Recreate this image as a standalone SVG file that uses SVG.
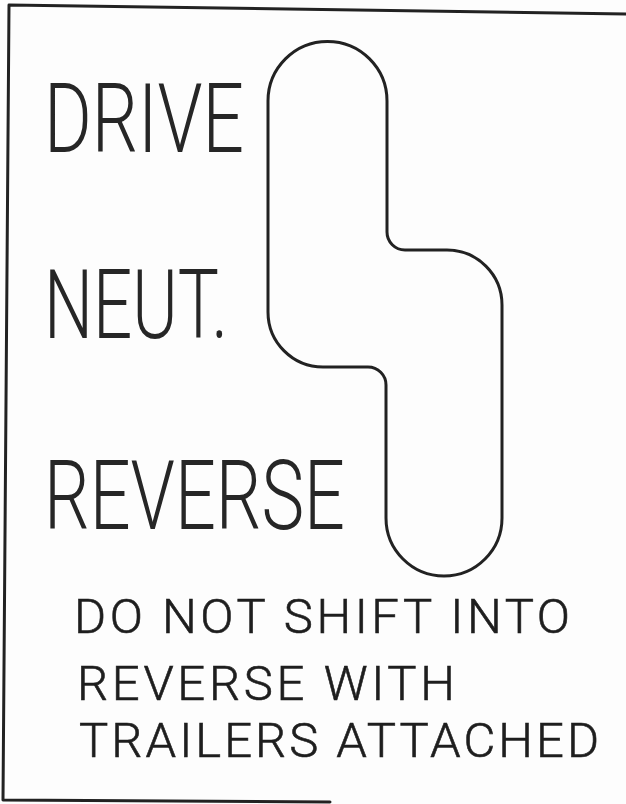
<svg xmlns="http://www.w3.org/2000/svg" width="626" height="804" viewBox="0 0 626 804">
<style>
.big{font-family:Roboto,"Liberation Sans Narrow","DejaVu Sans Condensed",sans-serif;font-weight:300;font-size:96px;fill:#262626}
.small{font-family:Roboto,"DejaVu Sans",sans-serif;font-weight:300;font-size:49px;fill:#1e1e1e;stroke:#1e1e1e;stroke-width:0.6}
.line{fill:none;stroke:#222;stroke-width:3;stroke-linejoin:round;stroke-linecap:round}
</style>
<rect width="626" height="804" fill="#fdfdfd"/>
<g id="border">
<polyline class="line" points="626,14 9,5 3,800 330,802" stroke-width="2.5" stroke="#333"/>
</g>
<g id="gate">
<path class="line" d="M268,101 A59.5,59.5 0 0 1 387,101 L387,232 A18,18 0 0 0 405,250 L447,250 A55,55 0 0 1 502,305 L502,518 A58,58 0 0 1 386,518 L386,385 A18,18 0 0 0 368,367 L323,367 A55,55 0 0 1 268,312 Z"/>
</g>
<g id="labels">
<text id="drive" class="big" x="44" y="152" textLength="200" lengthAdjust="spacingAndGlyphs">DRIVE</text>
<text id="neut" class="big" x="44" y="338" textLength="184" lengthAdjust="spacingAndGlyphs">NEUT.</text>
<text id="reverse" class="big" x="44" y="529" textLength="301" lengthAdjust="spacingAndGlyphs">REVERSE</text>
</g>
<g id="warning">
<text class="small" x="74" y="633" textLength="496" lengthAdjust="spacing">DO NOT SHIFT INTO</text>
<text class="small" x="77" y="700" textLength="378" lengthAdjust="spacing">REVERSE WITH</text>
<text class="small" x="79" y="757" textLength="520" lengthAdjust="spacing">TRAILERS ATTACHED</text>
</g>
</svg>
